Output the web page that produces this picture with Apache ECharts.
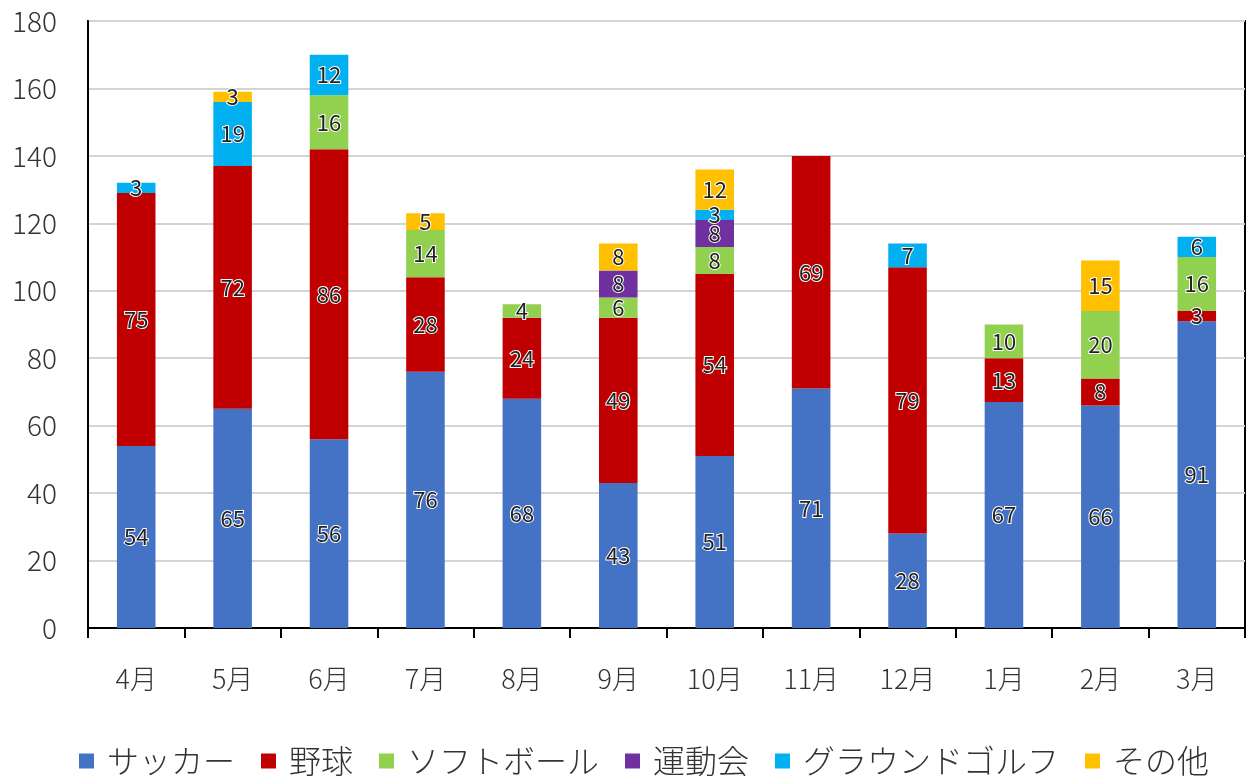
<!DOCTYPE html>
<html>
<head>
<meta charset="utf-8">
<script src="https://cdn.jsdelivr.net/npm/echarts@6/dist/echarts.min.js"></script>
<style>
  html, body { margin: 0; padding: 0; background: #fff; }
  #chart { width: 1248px; height: 778px; }
</style>
</head>
<body>
<div id="chart"></div>
<script>
// months (April to March)
const months = ['4月', '5月', '6月', '7月', '8月', '9月', '10月', '11月', '12月', '1月', '2月', '3月']

// values per activity, null = no bar
const soccer = [54, 65, 56, 76, 68, 43, 51, 71, 28, 67, 66, 91]
const baseball = [75, 72, 86, 28, 24, 49, 54, 69, 79, 13, 8, 3]
const softball = [null, null, 16, 14, 4, 6, 8, null, null, 10, 20, 16]
const sportsDay = [null, null, null, null, null, 8, 8, null, null, null, null, null]
const groundGolf = [3, 19, 12, null, null, null, 3, null, 7, null, null, 6]
const others = [null, 3, null, 5, null, 8, 12, null, null, null, 15, null]

const seriesDefs = [
  { name: 'サッカー', data: soccer, color: '#4472C4' },
  { name: '野球', data: baseball, color: '#C00000' },
  { name: 'ソフトボール', data: softball, color: '#92D050' },
  { name: '運動会', data: sportsDay, color: '#7030A0' },
  { name: 'グラウンドゴルフ', data: groundGolf, color: '#00B0F0' },
  { name: 'その他', data: others, color: '#FFC000' }
]

const font = "'Noto Sans CJK JP', 'Noto Sans', sans-serif"

const chart = echarts.init(document.getElementById('chart'))

chart.setOption({
  animation: false,
  textStyle: { fontFamily: font },
  grid: {
    left: 88,
    right: 3,
    top: 21,
    bottom: 150,
    show: true,
    borderColor: '#000',
    borderWidth: 2,
    containLabel: false
  },
  legend: {
    top: 740,
    left: 74,
    itemWidth: 15,
    itemHeight: 15,
    itemGap: 26,
    icon: 'rect',
    textStyle: {
      fontSize: 32,
      color: '#333',
      fontFamily: font,
      fontWeight: 300,
      padding: [0, 0, 0, 8]
    },
    data: seriesDefs.map(s => s.name)
  },
  xAxis: {
    type: 'category',
    data: months,
    axisLine: { lineStyle: { color: '#000', width: 2 } },
    axisTick: { show: true, length: 10, lineStyle: { color: '#000', width: 2 } },
    axisLabel: { fontSize: 27, color: '#333', margin: 37, fontFamily: font, fontWeight: 300 }
  },
  yAxis: {
    type: 'value',
    min: 0,
    max: 180,
    interval: 20,
    axisLine: { show: true, lineStyle: { color: '#000', width: 2 } },
    axisTick: { show: false },
    axisLabel: { fontSize: 28, color: '#333', margin: 31, fontFamily: font, fontWeight: 300 },
    splitLine: { lineStyle: { color: '#d4d4d4', width: 2 } }
  },
  series: seriesDefs.map(s => ({
    name: s.name,
    type: 'bar',
    stack: 'total',
    barWidth: '40%',
    data: s.data,
    itemStyle: { color: s.color },
    label: {
      show: true,
      position: 'inside',
      fontSize: 22,
      color: '#222',
      textBorderColor: '#fff',
      textBorderWidth: 2,
      fontFamily: font,
      formatter: p => (p.value == null ? '' : p.value)
    }
  }))
})
</script>
</body>
</html>
